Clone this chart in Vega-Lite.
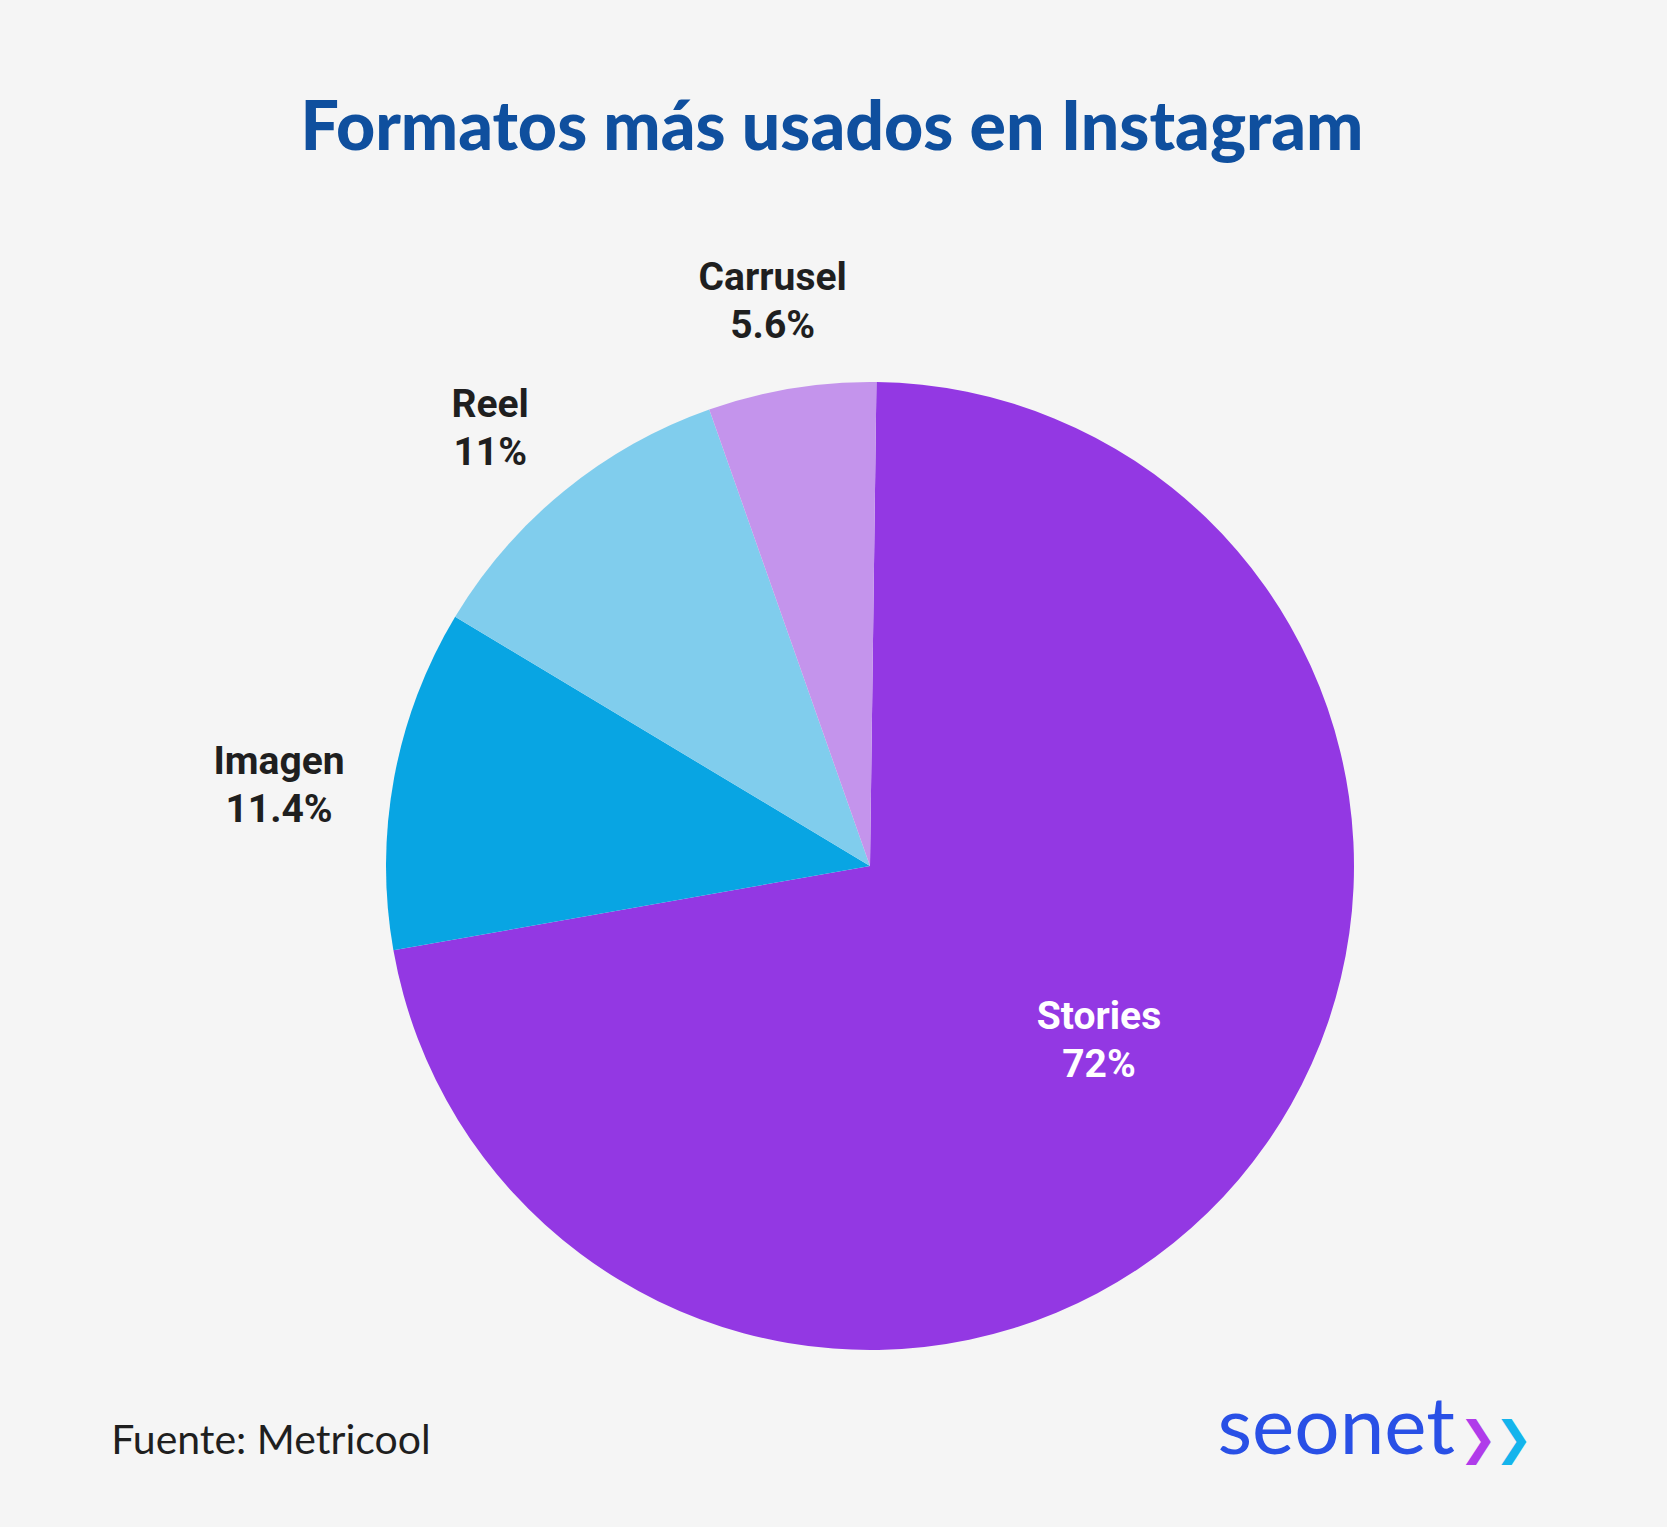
{
  "$schema": "https://vega.github.io/schema/vega-lite/v6.json",
  "autosize": "none",
  "width": 1540,
  "height": 972,
  "padding": {"left": 100, "right": 27, "top": 380, "bottom": 175},
  "background": "#F5F5F5",
  "config": {"view": {"stroke": null}},
  "title": {
    "text": "Formatos más usados en Instagram",
    "font": "Lato",
    "fontSize": 68,
    "fontWeight": 900,
    "color": "#0F4F9E",
    "anchor": "middle",
    "frame": "group",
    "dx": -38,
    "baseline": "alphabetic",
    "offset": 41
  },
  "data": {
    "values": [
      {"Formato": "Stories", "share": 0.72, "orden": 1},
      {"Formato": "Imagen", "share": 0.114, "orden": 2},
      {"Formato": "Reel", "share": 0.11, "orden": 3},
      {"Formato": "Carrusel", "share": 0.056, "orden": 4}
    ]
  },
  "layer": [
    {
      "mark": {"type": "arc", "radius": 484},
      "encoding": {
        "theta": {"field": "share", "type": "quantitative", "stack": true, "scale": {"range": [0.0133, 6.2965]}},
        "order": {"field": "orden", "type": "quantitative"},
        "color": {
          "field": "Formato",
          "type": "nominal",
          "scale": {"domain": ["Stories", "Imagen", "Reel", "Carrusel"], "range": ["#9338E3", "#08A5E3", "#80CDED", "#C494EC"]},
          "legend": null
        }
      }
    },
    {
      "mark": {"type": "text", "radius": 601, "font": "Roboto", "fontSize": 39, "fontWeight": "bold", "color": "#1F1F1F", "dy": 5, "baseline": "middle"},
      "encoding": {
        "theta": {"field": "share", "type": "quantitative", "stack": true},
        "order": {"field": "orden", "type": "quantitative"},
        "text": {"field": "Formato", "type": "nominal"},
        "opacity": {"condition": {"test": "datum.Formato === 'Stories'", "value": 0}, "value": 1}
      }
    },
    {
      "mark": {"type": "text", "radius": 601, "font": "Roboto", "fontSize": 39, "fontWeight": "bold", "color": "#1F1F1F", "dy": 53, "baseline": "middle"},
      "encoding": {
        "theta": {"field": "share", "type": "quantitative", "stack": true},
        "order": {"field": "orden", "type": "quantitative"},
        "text": {"field": "share", "type": "quantitative", "format": ".1~%"},
        "opacity": {"condition": {"test": "datum.Formato === 'Stories'", "value": 0}, "value": 1}
      }
    },
    {
      "mark": {"type": "text", "radius": 290, "font": "Roboto", "fontSize": 39, "fontWeight": "bold", "color": "#FFFFFF", "dy": -37, "dx": 8, "baseline": "middle"},
      "encoding": {
        "theta": {"field": "share", "type": "quantitative", "stack": true},
        "order": {"field": "orden", "type": "quantitative"},
        "text": {"field": "Formato", "type": "nominal"},
        "opacity": {"condition": {"test": "datum.Formato === 'Stories'", "value": 1}, "value": 0}
      }
    },
    {
      "mark": {"type": "text", "radius": 290, "font": "Roboto", "fontSize": 39, "fontWeight": "bold", "color": "#FFFFFF", "dy": 11, "dx": 8, "baseline": "middle"},
      "encoding": {
        "theta": {"field": "share", "type": "quantitative", "stack": true},
        "order": {"field": "orden", "type": "quantitative"},
        "text": {"field": "share", "type": "quantitative", "format": ".1~%"},
        "opacity": {"condition": {"test": "datum.Formato === 'Stories'", "value": 1}, "value": 0}
      }
    },
    {
      "mark": {"type": "rule", "opacity": 0},
      "encoding": {
        "x": {
          "datum": 0,
          "type": "quantitative",
          "scale": {"domain": [0, 1], "nice": false, "zero": false},
          "axis": {
            "title": null,
            "domain": false,
            "ticks": false,
            "tickSize": 0,
            "grid": false,
            "values": [0.0069, 0.7253, 0.882, 0.905],
            "labelExpr": "datum.value < 0.5 ? 'Fuente: Metricool' : datum.value < 0.85 ? 'seonet' : '❯'",
            "labelAlign": "left",
            "labelBaseline": "alphabetic",
            "labelPadding": 101,
            "labelLimit": 0,
            "labelOverlap": false,
            "labelBound": false,
            "labelFlush": false,
            "labelFont": {"condition": {"test": "datum.value < 0.85", "value": "Lato"}, "value": "DejaVu Sans"},
            "labelFontWeight": {"condition": {"test": "datum.value < 0.85", "value": "normal"}, "value": "bold"},
            "labelFontSize": {"condition": [{"test": "datum.value < 0.5", "value": 41}, {"test": "datum.value < 0.85", "value": 80}], "value": 46},
            "labelColor": {"condition": [{"test": "datum.value < 0.5", "value": "#1F1F1F"}, {"test": "datum.value < 0.85", "value": "#2950E6"}, {"test": "datum.value < 0.9", "value": "#B03CEA"}], "value": "#14B4EC"}
          }
        }
      }
    }
  ]
}
